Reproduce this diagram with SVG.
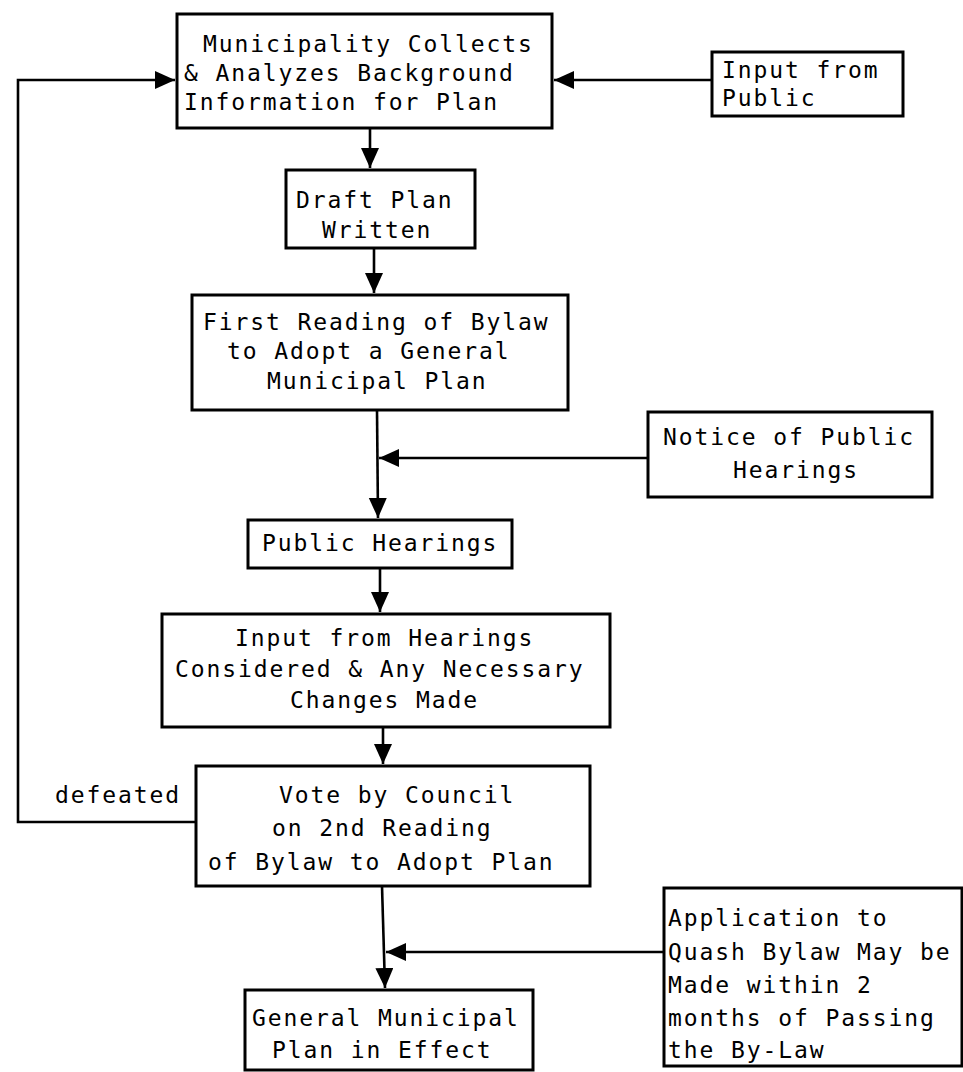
<svg xmlns="http://www.w3.org/2000/svg" width="963" height="1072" viewBox="0 0 963 1072">
<style>
  .box { fill: #fff; stroke: #000; stroke-width: 3; }
  .t { font-family: "DejaVu Sans Mono", "Liberation Mono", monospace; font-size: 23px; letter-spacing: 1.9px; fill: #000; }
  .c { fill: none; stroke: #000; stroke-width: 2.6; }
</style>
<defs>
  <marker id="ah" markerUnits="userSpaceOnUse" markerWidth="22" markerHeight="20" refX="20" refY="9" orient="auto">
    <path d="M0,0 L20,9 L0,18 Z" fill="#000"/>
  </marker>
</defs>
<rect width="963" height="1072" fill="#fff"/>
<g id="connectors">
  <path class="c" d="M712,80 L554,80" marker-end="url(#ah)"/>
  <path class="c" d="M196,822 L18,822 L18,80 L175,80" marker-end="url(#ah)"/>
  <path class="c" d="M370,128 L370,168" marker-end="url(#ah)"/>
  <path class="c" d="M374,248 L374,293" marker-end="url(#ah)"/>
  <path class="c" d="M377,410 L378,518" marker-end="url(#ah)"/>
  <path class="c" d="M648,458 L379,458" marker-end="url(#ah)"/>
  <path class="c" d="M380,568 L380,612" marker-end="url(#ah)"/>
  <path class="c" d="M383,727 L383,764" marker-end="url(#ah)"/>
  <path class="c" d="M382,886 L385,988" marker-end="url(#ah)"/>
  <path class="c" d="M664,952 L386,952" marker-end="url(#ah)"/>
</g>
<g id="n1">
  <rect class="box" x="177" y="14" width="375" height="114"/>
  <text class="t" x="203" y="52">Municipality Collects</text>
  <text class="t" x="184" y="81">&amp; Analyzes Background</text>
  <text class="t" x="184" y="110">Information for Plan</text>
</g>
<g id="n_public">
  <rect class="box" x="712" y="52" width="191" height="64"/>
  <text class="t" x="722" y="78">Input from</text>
  <text class="t" x="722" y="106">Public</text>
</g>
<g id="n2">
  <rect class="box" x="286" y="170" width="189" height="78"/>
  <text class="t" x="296" y="208">Draft Plan</text>
  <text class="t" x="322" y="238">Written</text>
</g>
<g id="n3">
  <rect class="box" x="192" y="295" width="376" height="115"/>
  <text class="t" x="203" y="330">First Reading of Bylaw</text>
  <text class="t" x="227" y="359">to Adopt a General</text>
  <text class="t" x="267" y="389">Municipal Plan</text>
</g>
<g id="n_notice">
  <rect class="box" x="648" y="412" width="284" height="85"/>
  <text class="t" x="663" y="445">Notice of Public</text>
  <text class="t" x="733" y="478">Hearings</text>
</g>
<g id="n4">
  <rect class="box" x="248" y="520" width="264" height="48"/>
  <text class="t" x="262" y="551">Public Hearings</text>
</g>
<g id="n5">
  <rect class="box" x="162" y="614" width="448" height="113"/>
  <text class="t" x="235" y="646">Input from Hearings</text>
  <text class="t" x="175" y="677">Considered &amp; Any Necessary</text>
  <text class="t" x="290" y="708">Changes Made</text>
</g>
<g id="n6">
  <rect class="box" x="196" y="766" width="394" height="120"/>
  <text class="t" x="279" y="803">Vote by Council</text>
  <text class="t" x="272" y="836">on 2nd Reading</text>
  <text class="t" x="208" y="870">of Bylaw to Adopt Plan</text>
</g>
<text id="lbl_defeated" class="t" x="55" y="803">defeated</text>
<g id="n_app">
  <rect class="box" x="664" y="888" width="298" height="178"/>
  <text class="t" x="668" y="926">Application to</text>
  <text class="t" x="668" y="960">Quash Bylaw May be</text>
  <text class="t" x="668" y="993">Made within 2</text>
  <text class="t" x="668" y="1026">months of Passing</text>
  <text class="t" x="668" y="1058">the By-Law</text>
</g>
<g id="n7">
  <rect class="box" x="245" y="990" width="288" height="80"/>
  <text class="t" x="252" y="1026">General Municipal</text>
  <text class="t" x="272" y="1058">Plan in Effect</text>
</g>
</svg>
